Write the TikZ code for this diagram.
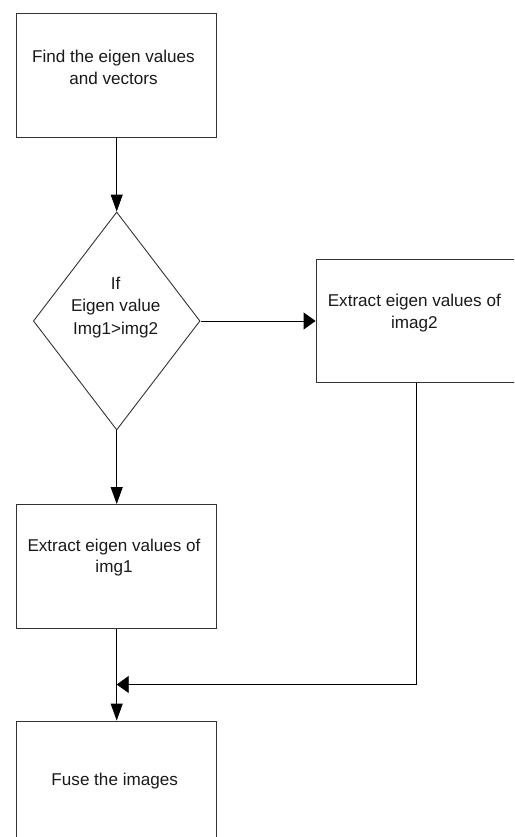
\documentclass[tikz,border=0pt]{standalone}
\usepackage{fontspec}
\setmainfont{Liberation Sans}
\usetikzlibrary{shapes.geometric,arrows.meta}
\begin{document}
\begin{tikzpicture}[x=1pt,y=-1pt,
  box/.style={draw=black!80, line width=0.9pt, minimum width=200pt, minimum height=124pt, inner sep=0pt},
  decision/.style={diamond, draw=black!80, line width=0.9pt, minimum width=166.7pt, minimum height=218pt, inner sep=0pt},
  txt/.style={font=\fontsize{17.1}{21.5}\selectfont, align=center, inner sep=0pt, text=black!90},
  conn/.style={draw=black, line width=0.9pt},
  vtip/.style={-{Triangle[length=17pt,width=12pt]}},
  htip/.style={-{Triangle[length=12pt,width=17pt]}}]
\useasboundingbox (0,0) rectangle (514,837);
\clip (0,0) rectangle (514,837);
\node[box] (find) at (116.7,75) {};
\node[decision] (cond) at (116.7,321) {};
\node[box, minimum height=123.5pt] (ex2) at (416,321) {};
\node[box] (ex1) at (116.7,566.5) {};
\node[box] (fuse) at (116.7,783) {};
\node[txt] (t1) at (113.5,67.5) {Find the eigen values\\and vectors};
\node[txt, font=\fontsize{17.1}{22.5}\selectfont] (tc) at (115.7,307.5) {If\\Eigen value\\Img1>img2};
\node[txt] (t2) at (414.3,313) {Extract eigen values of\\imag2};
\node[txt] (t3) at (114,557.5) {Extract eigen values of\\img1};
\node[txt] (t4) at (114.7,780.7) {Fuse the images};
\coordinate (join) at (116.7,684.5);
\draw[conn,vtip] (find.south) -- (cond.north);
\draw[conn,htip] (cond.east) -- (ex2.west);
\draw[conn,vtip] (cond.south) -- (ex1.north);
\draw[conn,vtip] (ex1.south) -- (fuse.north);
\draw[conn,htip] (ex2.south) |- (join);
\end{tikzpicture}
\end{document}
